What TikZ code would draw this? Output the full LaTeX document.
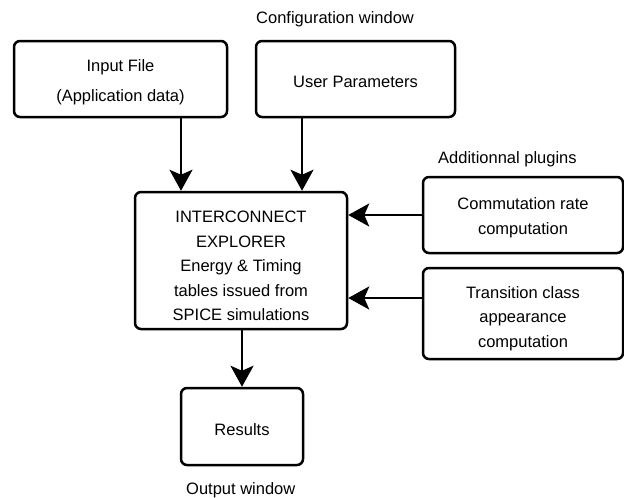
\documentclass[tikz,border=0pt]{standalone}
\usepackage{fontspec}
\setmainfont{Liberation Sans}
\usetikzlibrary{arrows.meta}
\newcommand{\tstrut}[1]{\rule{0pt}{#1}}
\begin{document}
\begin{tikzpicture}[x=1pt,y=-1pt,
  box/.style={draw,line width=2.5pt,rounded corners=6pt,align=center,inner sep=0pt},
  conn/.style={line width=2.6pt,-{Stealth[length=21pt,width=23pt,inset=5pt]}},
  lbl/.style={anchor=west,inner sep=0pt},
  every node/.append style={font=\fontsize{16.5}{24.5}\selectfont}]
\useasboundingbox (0,0) rectangle (624,498);
\node[box,minimum width=213pt,minimum height=76pt] (input) at (120.5,79) {\tstrut{18pt}Input File\\[5pt](Application data)};
\node[box,minimum width=199pt,minimum height=76pt] (user) at (355.5,79) {\tstrut{18pt}User Parameters};
\node[box,minimum width=212pt,minimum height=137pt] (core) at (241,260.5) {\tstrut{23pt}INTERCONNECT\\EXPLORER\\Energy \& Timing\\tables issued from\\SPICE simulations};
\node[box,minimum width=122pt,minimum height=77pt] (res) at (242,426.5) {\tstrut{18pt}Results};
\node[box,minimum width=200pt,minimum height=76pt] (comm) at (523,215) {\tstrut{17pt}Commutation rate\\computation};
\node[box,minimum width=200pt,minimum height=91pt] (trans) at (523,313.5) {\tstrut{22pt}Transition class\\appearance\\computation};
\node[lbl] (cfg) at (256,19) {Configuration window};
\node[lbl] (plug) at (438,159) {Additionnal plugins};
\node[lbl] (outw) at (186,490) {Output window};
\draw[conn] (input.south -| 181,0) -- (core.north -| 181,0);
\draw[conn] (user.south -| 302,0) -- (core.north -| 302,0);
\draw[conn] (core.south -| res.north) -- (res.north);
\draw[conn] (comm.west) -- (comm.west -| core.east);
\draw[conn] (trans.west |- 0,298) -- (core.east |- 0,298);
\end{tikzpicture}
\end{document}
